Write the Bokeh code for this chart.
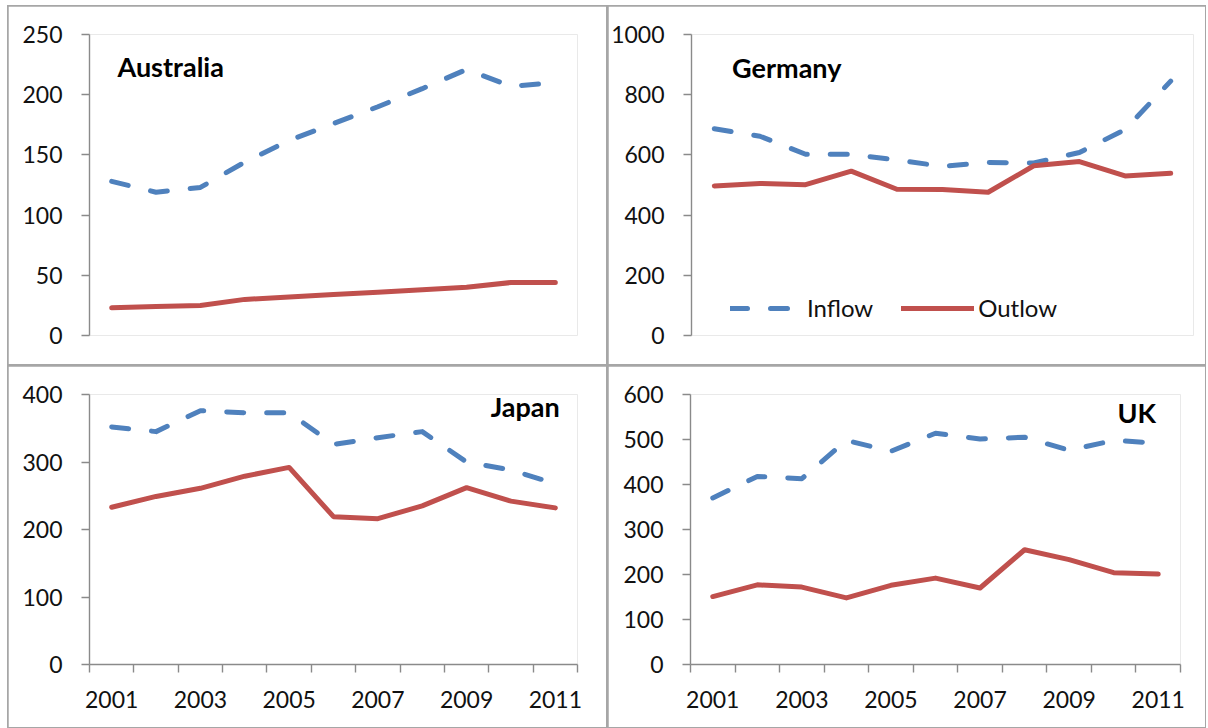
from bokeh.plotting import figure
from bokeh.models import FixedTicker, Label, Legend, LegendItem, Range1d
from bokeh.layouts import row, column
from bokeh.embed import file_html
from bokeh.resources import INLINE

# ---------------- data ----------------
years = [2001, 2002, 2003, 2004, 2005, 2006, 2007, 2008, 2009, 2010, 2011]
year_labels = [2001, 2003, 2005, 2007, 2009, 2011]

aus_inflow = [128, 119, 123, 144, 162, 176, 190, 205, 221, 207, 210]
aus_outflow = [23, 24, 25, 30, 32, 34, 36, 38, 40, 44, 44]
aus_yticks = [0, 50, 100, 150, 200, 250]

ger_inflow = [687, 662, 602, 602, 583, 562, 575, 573, 608, 684, 845]
ger_outflow = [497, 505, 501, 546, 486, 485, 476, 564, 578, 530, 539]
ger_yticks = [0, 200, 400, 600, 800, 1000]

jap_inflow = [352, 345, 376, 373, 373, 326, 336, 345, 300, 288, 268]
jap_outflow = [233, 249, 261, 279, 292, 219, 216, 235, 262, 242, 232]
jap_yticks = [0, 100, 200, 300, 400]

uk_inflow = [370, 418, 413, 498, 474, 514, 501, 505, 476, 498, 492]
uk_outflow = [151, 177, 172, 148, 176, 192, 170, 255, 233, 204, 201]
uk_yticks = [0, 100, 200, 300, 400, 500, 600]

series_names = ["Inflow", "Outlow"]

BLUE = "#4F81BD"
RED = "#C0504D"
AXIS = "#8a8a8a"
FONT = "Lato"


def make_panel(title, inflow, outflow, yticks, w, h, borders, show_x,
               title_pos, title_align, legend_loc=None):
    mt, mr, mb, ml = borders
    p = figure(width=w, height=h,
               x_range=Range1d(years[0] - 0.5, years[-1] + 0.5),
               y_range=Range1d(yticks[0], yticks[-1]),
               output_backend="svg", toolbar_location=None,
               x_axis_location="below" if show_x else None,
               min_border_top=mt, min_border_right=mr,
               min_border_bottom=mb, min_border_left=ml,
               margin=(1, 1, 1, 1))
    p.outline_line_color = None
    p.background_fill_color = "white"
    p.border_fill_color = "white"
    p.xgrid.visible = False
    p.ygrid.visible = False

    ya = p.yaxis[0]
    ya.ticker = FixedTicker(ticks=yticks)
    ya.axis_line_color = AXIS
    ya.axis_line_width = 1.4
    ya.major_tick_line_color = AXIS
    ya.major_tick_line_width = 1.4
    ya.major_tick_out = 8
    ya.major_tick_in = 0
    ya.minor_tick_out = 0
    ya.minor_tick_in = 0
    ya.major_label_text_font = FONT
    ya.major_label_text_font_size = "23px"
    ya.major_label_text_color = "#111111"
    ya.major_label_standoff = 19

    if show_x:
        xa = p.xaxis[0]
        xa.ticker = FixedTicker(ticks=year_labels,
                                minor_ticks=[y - 0.5 for y in years] + [years[-1] + 0.5])
        xa.axis_line_color = AXIS
        xa.axis_line_width = 1.4
        xa.major_tick_out = 0
        xa.major_tick_in = 0
        xa.minor_tick_out = 8
        xa.minor_tick_in = 0
        xa.minor_tick_line_color = AXIS
        xa.minor_tick_line_width = 1.4
        xa.major_label_text_font = FONT
        xa.major_label_text_font_size = "23px"
        xa.major_label_text_color = "#111111"
        xa.major_label_standoff = 18

    r_in = p.line(years, inflow, line_color=BLUE, line_width=5,
                  line_dash="17 23", line_cap="round", line_join="round")
    r_out = p.line(years, outflow, line_color=RED, line_width=5,
                   line_cap="round", line_join="round")

    p.add_layout(Label(x=title_pos[0], y=title_pos[1], text=title,
                       text_font=FONT, text_font_style="bold",
                       text_font_size="27px", text_color="#000000",
                       text_align=title_align, text_baseline="alphabetic"))

    if legend_loc is not None:
        leg = Legend(items=[LegendItem(label=series_names[0], renderers=[r_in]),
                            LegendItem(label=series_names[1], renderers=[r_out])],
                     orientation="horizontal", location=legend_loc,
                     border_line_color=None, background_fill_alpha=0,
                     padding=0, margin=0, spacing=28,
                     glyph_width=73, glyph_height=24, label_height=24,
                     label_standoff=4, label_text_font=FONT,
                     label_text_font_size="24px", label_text_color="#111111")
        p.add_layout(leg)
    return p


pa = make_panel("Australia", aus_inflow, aus_outflow, aus_yticks, 598, 358,
                (28, 29, 29, 81), False, (2001.13, 223.5), "left")
pb = make_panel("Germany", ger_inflow, ger_outflow, ger_yticks, 597, 358,
                (26, 12, 26, 81), False, (2001.39, 891), "left", legend_loc=(39, 13))
pc = make_panel("Japan", jap_inflow, jap_outflow, jap_yticks, 598, 361,
                (28, 29, 63, 81), True, (2011.1, 382), "right")
pd = make_panel("UK", uk_inflow, uk_outflow, uk_yticks, 597, 361,
                (28, 25, 63, 82), True, (2010.95, 559), "right")

layout = column(row(pa, pb), row(pc, pd),
                styles={"background-color": "#a6a6a6"},
                margin=(5, 2, 0, 7))

open("out.html", "w").write(file_html(layout, INLINE))
